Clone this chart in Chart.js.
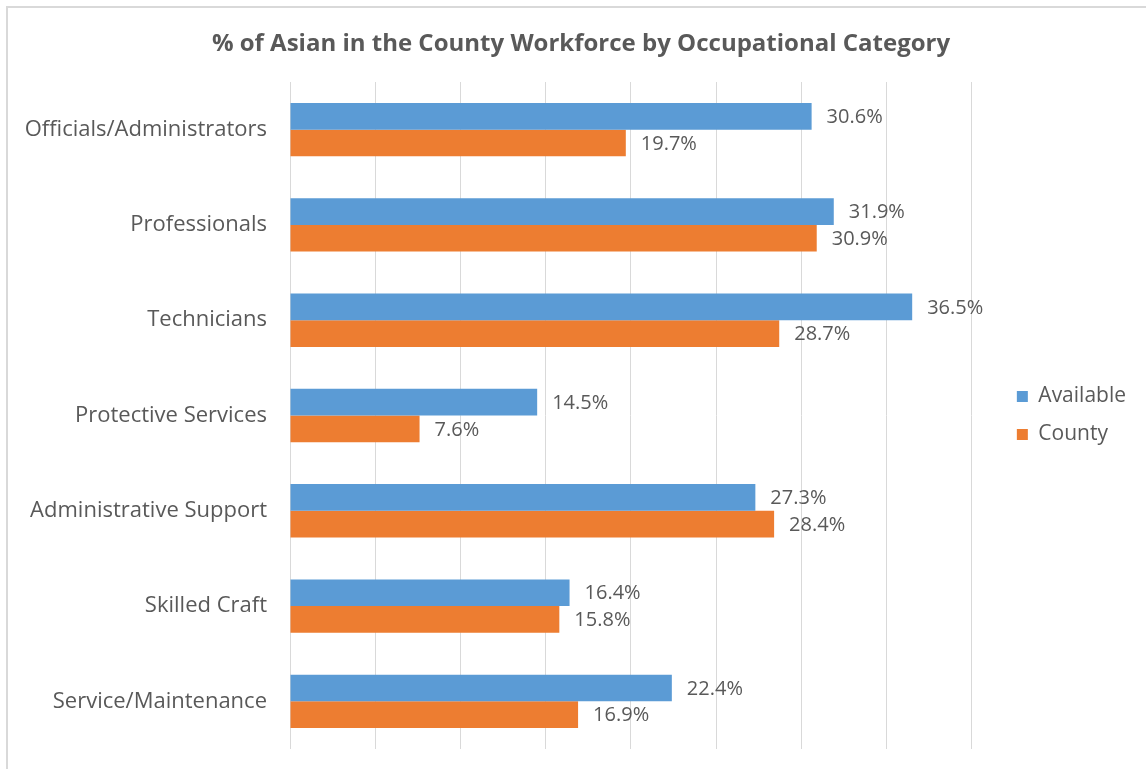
<!DOCTYPE html>
<html>
<head>
<meta charset="utf-8">
<script src="https://cdn.jsdelivr.net/npm/chart.js@4"></script>
<style>
  html, body { margin: 0; padding: 0; background: #fff; overflow: hidden; }
  #wrap { position: absolute; left: 6px; top: 6px; width: 1146px; height: 790px; border: 2px solid #d9d9d9; }
</style>
</head>
<body>
<div id="wrap"><canvas id="chart" width="1146" height="790"></canvas></div>
<script>
const categories = ["Officials/Administrators", "Professionals", "Technicians", "Protective Services",
    "Administrative Support", "Skilled Craft", "Service/Maintenance"];
const available = [30.6, 31.9, 36.5, 14.5, 27.3, 16.4, 22.4];
const county = [19.7, 30.9, 28.7, 7.6, 28.4, 15.8, 16.9];

const textColor = '#595959';
const fontFamily = "'Open Sans', 'Noto Sans', sans-serif";

// percent labels next to each bar
const barLabels = {
    id: 'barLabels',
    afterDatasetsDraw(chart) {
        const ctx = chart.ctx;
        ctx.save();
        ctx.font = '20px ' + fontFamily;
        ctx.fillStyle = textColor;
        ctx.textAlign = 'left';
        ctx.textBaseline = 'middle';
        chart.data.datasets.forEach((ds, i) => {
            chart.getDatasetMeta(i).data.forEach((bar, j) => {
                ctx.fillText(ds.data[j].toFixed(1) + '%', bar.x + 15, bar.y + 1);
            });
        });
        ctx.restore();
    }
};

new Chart(document.getElementById('chart'), {
    type: 'bar',
    data: {
        labels: categories,
        datasets: [
            { label: 'Available', data: available, backgroundColor: '#5B9BD5' },
            { label: 'County', data: county, backgroundColor: '#ED7D31' }
        ]
    },
    options: {
        indexAxis: 'y',
        responsive: false,
        animation: false,
        categoryPercentage: 0.56,
        barPercentage: 1,
        layout: { padding: { left: 18, right: 18, top: 0, bottom: 49 } },
        scales: {
            x: {
                min: 0, max: 40,
                ticks: { display: false, stepSize: 5 },
                grid: { color: '#d9d9d9', drawTicks: false },
                border: { display: false }
            },
            y: {
                grid: { display: false },
                border: { display: false },
                ticks: { color: textColor, font: { family: fontFamily, size: 22 }, padding: 15 },
                afterFit(scale) { scale.width = 264; }
            },
            // empty spacer between plot and legend
            y2: {
                type: 'linear',
                position: 'right',
                grid: { display: false },
                border: { display: false },
                ticks: { display: false },
                afterFit(scale) { scale.width = 28; }
            }
        },
        plugins: {
            title: {
                display: true,
                text: '% of Asian in the County Workforce by Occupational Category',
                color: textColor,
                font: { family: fontFamily, size: 24, weight: 'bold' },
                padding: { top: 21.5, bottom: 23.7 }
            },
            legend: {
                position: 'right',
                fullSize: false,
                labels: {
                    color: textColor,
                    font: { family: fontFamily, size: 21 },
                    boxWidth: 11, boxHeight: 11,
                    padding: 17
                }
            },
            tooltip: { enabled: false }
        }
    },
    plugins: [barLabels]
});
</script>
</body>
</html>
